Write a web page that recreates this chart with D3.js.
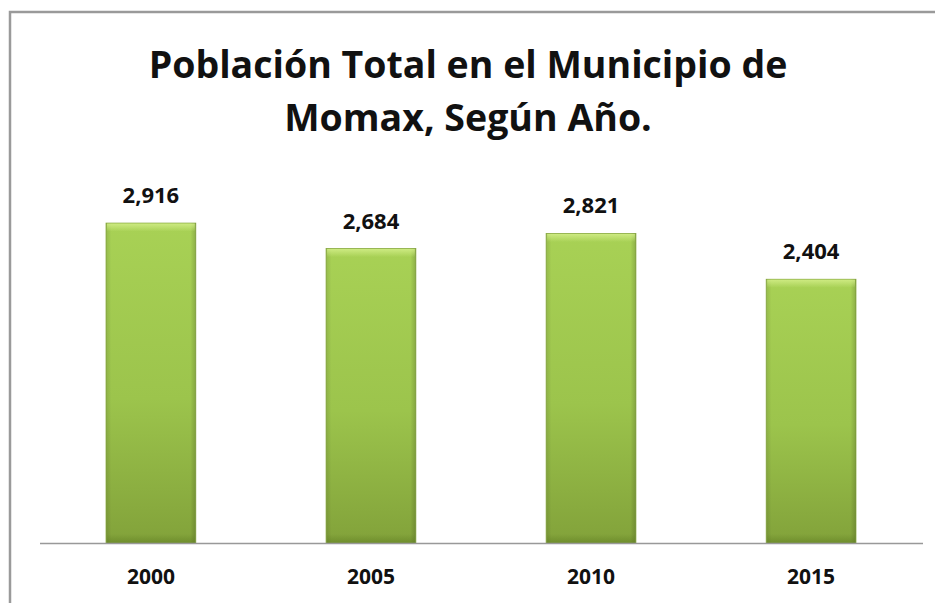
<!DOCTYPE html>
<html>
<head>
<meta charset="utf-8">
<script src="https://cdn.jsdelivr.net/npm/d3@7"></script>
<style>
    body { margin: 0; background: #fff; }
    text { font-family: "Open Sans", "Liberation Sans", sans-serif; font-weight: bold; fill: #111; }
</style>
</head>
<body>
<div id="svg-div"></div>
<script>
// data
var years = ["2000", "2005", "2010", "2015"];
var population = [2916, 2684, 2821, 2404];
var titleLines = ["Población Total en el Municipio de", "Momax, Según Año."];

window.onload = () => {
    var width = 935, height = 603;
    var plot = { left: 40, right: 922, top: 159, bottom: 543 };

    var svg = d3.select("#svg-div")
        .append("svg")
        .attr("width", width)
        .attr("height", height);

    var defs = svg.append("defs");
    var grad = defs.append("linearGradient")
        .attr("id", "barGrad")
        .attr("x1", 0).attr("y1", 0).attr("x2", 0).attr("y2", 1);
    grad.append("stop").attr("offset", "0%").attr("stop-color", "#a8d155");
    grad.append("stop").attr("offset", "55%").attr("stop-color", "#9cc44c");
    grad.append("stop").attr("offset", "100%").attr("stop-color", "#82a23a");

    var side = defs.append("linearGradient")
        .attr("id", "sideGrad")
        .attr("x1", 0).attr("y1", 0).attr("x2", 1).attr("y2", 0);
    side.append("stop").attr("offset", "0%").attr("stop-color", "#000").attr("stop-opacity", 0.10);
    side.append("stop").attr("offset", "6%").attr("stop-color", "#000").attr("stop-opacity", 0);
    side.append("stop").attr("offset", "94%").attr("stop-color", "#000").attr("stop-opacity", 0);
    side.append("stop").attr("offset", "100%").attr("stop-color", "#000").attr("stop-opacity", 0.16);

    var topShine = defs.append("linearGradient")
        .attr("id", "topShine")
        .attr("x1", 0).attr("y1", 0).attr("x2", 0).attr("y2", 1);
    topShine.append("stop").attr("offset", "0%").attr("stop-color", "#d6f08c").attr("stop-opacity", 0.8);
    topShine.append("stop").attr("offset", "100%").attr("stop-color", "#d6f08c").attr("stop-opacity", 0);

    var bottomShade = defs.append("linearGradient")
        .attr("id", "bottomShade")
        .attr("x1", 0).attr("y1", 0).attr("x2", 0).attr("y2", 1);
    bottomShade.append("stop").attr("offset", "0%").attr("stop-color", "#5f7d22").attr("stop-opacity", 0);
    bottomShade.append("stop").attr("offset", "100%").attr("stop-color", "#5f7d22").attr("stop-opacity", 0.55);

    // outer frame (top and left edges visible)
    svg.append("path")
        .attr("d", "M10,603 L10,12 L935,12")
        .attr("fill", "none")
        .attr("stroke", "#9a9a9a")
        .attr("stroke-width", 2.5);

    var xScale = d3.scaleBand()
        .domain(years)
        .range([plot.left, plot.right])
        .paddingInner(0.592)
        .paddingOuter(0.3);

    var yScale = d3.scaleLinear()
        .domain([0, 3500])
        .range([plot.bottom, plot.top]);

    var data = years.map((y, i) => ({ year: y, value: population[i] }));

    var bars = svg.selectAll("g.bar")
        .data(data)
        .enter()
        .append("g")
        .attr("class", "bar");

    bars.append("rect")
        .attr("x", d => xScale(d.year))
        .attr("y", d => yScale(d.value))
        .attr("width", xScale.bandwidth())
        .attr("height", d => yScale(0) - yScale(d.value))
        .attr("fill", "url(#barGrad)")
        .attr("stroke", "#8aab40")
        .attr("stroke-width", 0.8);

    bars.append("rect")
        .attr("x", d => xScale(d.year))
        .attr("y", d => yScale(d.value))
        .attr("width", xScale.bandwidth())
        .attr("height", d => yScale(0) - yScale(d.value))
        .attr("fill", "url(#sideGrad)");

    // bevel: soft light top, darker bottom
    bars.append("rect")
        .attr("x", d => xScale(d.year) + 1)
        .attr("y", d => yScale(d.value) + 0.5)
        .attr("width", xScale.bandwidth() - 2)
        .attr("height", 8)
        .attr("fill", "url(#topShine)");

    bars.append("rect")
        .attr("x", d => xScale(d.year) + 1)
        .attr("y", yScale(0) - 9)
        .attr("width", xScale.bandwidth() - 2)
        .attr("height", 9)
        .attr("fill", "url(#bottomShade)");

    // value labels
    bars.append("text")
        .attr("x", d => xScale(d.year) + xScale.bandwidth() / 2)
        .attr("y", d => yScale(d.value) - 20)
        .attr("text-anchor", "middle")
        .style("font-size", "22px")
        .text(d => d3.format(",")(d.value));

    // baseline
    svg.append("line")
        .attr("x1", plot.left)
        .attr("x2", plot.right + 1)
        .attr("y1", plot.bottom + 0.5)
        .attr("y2", plot.bottom + 0.5)
        .attr("stroke", "#999")
        .attr("stroke-width", 1.3);

    // category labels
    svg.selectAll("text.year")
        .data(years)
        .enter()
        .append("text")
        .attr("class", "year")
        .attr("x", d => xScale(d) + xScale.bandwidth() / 2)
        .attr("y", 584)
        .attr("text-anchor", "middle")
        .style("font-size", "21px")
        .text(d => d);

    // title
    svg.selectAll("text.title")
        .data(titleLines)
        .enter()
        .append("text")
        .attr("class", "title")
        .attr("x", 468)
        .attr("y", (_, i) => 78 + i * 53)
        .attr("text-anchor", "middle")
        .style("font-size", "37.5px")
        .text(d => d);
};
</script>
</body>
</html>
